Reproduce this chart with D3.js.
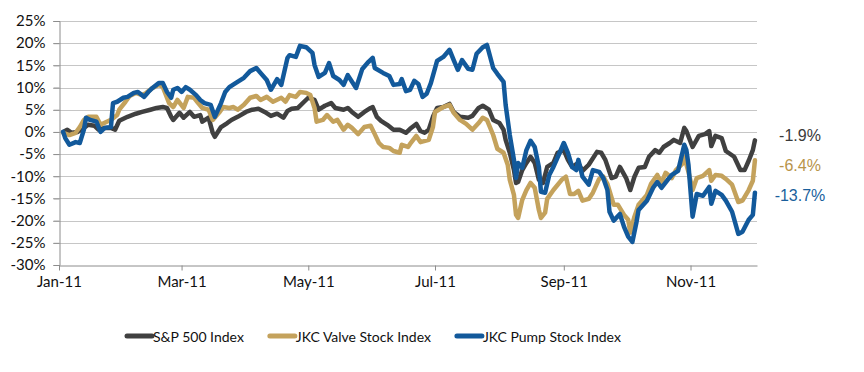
<!DOCTYPE html>
<html>
<head>
<meta charset="utf-8">
<script src="https://cdn.jsdelivr.net/npm/d3@7"></script>
<style>
  html, body { margin: 0; padding: 0; background: #fff; }
  svg { display: block; }
</style>
</head>
<body>
<svg id="chart" width="864" height="372"></svg>
<script>
// ---------- DATA ----------
const seriesNames = ["S&P 500 Index", "JKC Valve Stock Index", "JKC Pump Stock Index"];
const yTickValues = [-30, -25, -20, -15, -10, -5, 0, 5, 10, 15, 20, 25];
const xTickDates = ["2011-01-01", "2011-03-01", "2011-05-01", "2011-07-01", "2011-09-01", "2011-11-01"];
const xDomain = ["2011-01-01", "2011-12-03"];
const endLabels = ["-1.9%", "-6.4%", "-13.7%"];

const spx = [
["2011-01-03",0],["2011-01-05",0.5],["2011-01-07",-0.2],["2011-01-10",0],["2011-01-13",0.9],["2011-01-15",1.6],["2011-01-18",1.4],["2011-01-20",0.5],["2011-01-23",0.9],["2011-01-26",0.9],["2011-01-28",0.5],["2011-01-30",2.5],["2011-02-03",3.4],["2011-02-07",4.1],["2011-02-10",4.5],["2011-02-14",5.0],["2011-02-17",5.4],["2011-02-20",5.6],["2011-02-22",5.4],["2011-02-24",3.4],["2011-02-25",2.7],["2011-02-28",4.3],["2011-03-02",3.2],["2011-03-05",4.5],["2011-03-07",3.4],["2011-03-10",3.8],["2011-03-11",2.3],["2011-03-14",3.2],["2011-03-16",-0.2],["2011-03-17",-1.1],["2011-03-20",1.1],["2011-03-23",2.0],["2011-03-25",2.7],["2011-03-28",3.4],["2011-04-01",4.5],["2011-04-04",5.0],["2011-04-07",5.2],["2011-04-10",4.5],["2011-04-13",3.6],["2011-04-16",4.1],["2011-04-19",3.2],["2011-04-21",4.7],["2011-04-23",5.2],["2011-04-26",5.4],["2011-04-29",6.8],["2011-05-01",7.7],["2011-05-04",7.2],["2011-05-06",5.0],["2011-05-09",5.9],["2011-05-12",6.5],["2011-05-14",5.4],["2011-05-18",5.0],["2011-05-20",5.4],["2011-05-22",4.5],["2011-05-25",3.4],["2011-05-28",4.5],["2011-05-31",5.4],["2011-06-01",5.6],["2011-06-03",3.4],["2011-06-05",2.5],["2011-06-08",1.6],["2011-06-11",0.5],["2011-06-14",0.5],["2011-06-17",-0.2],["2011-06-19",0.7],["2011-06-22",1.8],["2011-06-24",0.2],["2011-06-26",-0.2],["2011-06-28",0.5],["2011-06-30",3.4],["2011-07-02",5.4],["2011-07-05",5.6],["2011-07-08",6.3],["2011-07-10",4.5],["2011-07-13",3.4],["2011-07-17",3.2],["2011-07-19",3.6],["2011-07-22",5.4],["2011-07-24",5.9],["2011-07-27",5.0],["2011-07-29",2.7],["2011-08-01",2.0],["2011-08-03",0.5],["2011-08-04",-1.8],["2011-08-06",-4.7],["2011-08-08",-8.6],["2011-08-09",-11.5],["2011-08-10",-11.3],["2011-08-12",-8.6],["2011-08-14",-7.0],["2011-08-16",-5.6],["2011-08-18",-7.0],["2011-08-20",-10.8],["2011-08-22",-11.5],["2011-08-24",-7.9],["2011-08-27",-7.0],["2011-08-29",-4.7],["2011-09-01",-4.1],["2011-09-03",-6.3],["2011-09-05",-7.9],["2011-09-08",-7.0],["2011-09-10",-8.8],["2011-09-13",-7.4],["2011-09-17",-4.5],["2011-09-19",-4.7],["2011-09-21",-6.3],["2011-09-24",-10.4],["2011-09-26",-10.1],["2011-09-28",-7.9],["2011-10-01",-10.4],["2011-10-03",-13.1],["2011-10-05",-10.1],["2011-10-07",-8.1],["2011-10-10",-7.9],["2011-10-12",-5.6],["2011-10-15",-4.1],["2011-10-17",-4.7],["2011-10-19",-3.4],["2011-10-22",-2.5],["2011-10-24",-1.8],["2011-10-27",-2.5],["2011-10-29",0.9],["2011-10-30",0.2],["2011-11-02",-3.4],["2011-11-05",-0.9],["2011-11-08",-0.5],["2011-11-10",0.2],["2011-11-11",-3.2],["2011-11-13",-0.9],["2011-11-16",-1.4],["2011-11-18",-4.3],["2011-11-22",-5.6],["2011-11-25",-8.6],["2011-11-27",-8.6],["2011-11-29",-6.5],["2011-12-01",-4.1],["2011-12-02",-1.9]
];

const valve = [
["2011-01-03",-0.2],["2011-01-06",-0.7],["2011-01-09",-0.2],["2011-01-11",1.1],["2011-01-13",2.7],["2011-01-15",3.4],["2011-01-19",3.4],["2011-01-21",1.6],["2011-01-24",2.3],["2011-01-26",2.7],["2011-01-29",3.8],["2011-01-30",5.0],["2011-02-02",6.8],["2011-02-04",8.1],["2011-02-07",8.8],["2011-02-10",8.3],["2011-02-12",8.8],["2011-02-15",9.9],["2011-02-18",10.6],["2011-02-20",10.1],["2011-02-23",6.5],["2011-02-25",5.6],["2011-02-27",7.2],["2011-03-02",5.4],["2011-03-04",7.9],["2011-03-07",7.7],["2011-03-09",6.5],["2011-03-11",5.4],["2011-03-14",5.0],["2011-03-16",2.7],["2011-03-19",4.3],["2011-03-21",5.6],["2011-03-24",5.4],["2011-03-26",5.6],["2011-03-28",5.0],["2011-03-31",6.1],["2011-04-03",7.7],["2011-04-06",8.1],["2011-04-08",7.2],["2011-04-11",7.9],["2011-04-14",6.8],["2011-04-18",7.7],["2011-04-20",6.8],["2011-04-22",8.3],["2011-04-25",7.9],["2011-04-27",9.0],["2011-04-30",8.8],["2011-05-02",8.3],["2011-05-04",5.4],["2011-05-05",2.3],["2011-05-08",2.7],["2011-05-10",3.8],["2011-05-13",2.3],["2011-05-15",2.7],["2011-05-18",0.5],["2011-05-20",1.6],["2011-05-22",0.9],["2011-05-25",-0.5],["2011-05-28",1.1],["2011-05-31",1.4],["2011-06-02",-0.5],["2011-06-04",-2.5],["2011-06-06",-3.4],["2011-06-09",-3.6],["2011-06-11",-4.3],["2011-06-14",-4.7],["2011-06-15",-2.9],["2011-06-18",-3.4],["2011-06-19",-2.7],["2011-06-22",-0.9],["2011-06-24",-2.3],["2011-06-28",-1.8],["2011-06-30",1.1],["2011-07-01",4.5],["2011-07-05",5.6],["2011-07-08",6.1],["2011-07-10",4.3],["2011-07-13",2.7],["2011-07-16",1.8],["2011-07-19",0.5],["2011-07-22",2.0],["2011-07-24",3.2],["2011-07-26",2.7],["2011-07-29",-0.7],["2011-07-31",-3.8],["2011-08-03",-4.7],["2011-08-05",-7.4],["2011-08-06",-10.8],["2011-08-08",-14.2],["2011-08-09",-18.7],["2011-08-10",-19.4],["2011-08-12",-15.3],["2011-08-14",-13.1],["2011-08-16",-11.5],["2011-08-18",-12.6],["2011-08-20",-17.6],["2011-08-21",-19.4],["2011-08-23",-18.2],["2011-08-24",-15.1],["2011-08-27",-13.1],["2011-08-31",-10.8],["2011-09-02",-10.1],["2011-09-04",-14.0],["2011-09-06",-14.0],["2011-09-08",-13.3],["2011-09-10",-15.5],["2011-09-13",-15.1],["2011-09-15",-13.7],["2011-09-18",-10.6],["2011-09-20",-10.1],["2011-09-22",-11.7],["2011-09-25",-16.4],["2011-09-27",-16.4],["2011-09-30",-18.7],["2011-10-02",-19.8],["2011-10-03",-22.7],["2011-10-05",-19.1],["2011-10-07",-16.4],["2011-10-11",-14.2],["2011-10-13",-11.7],["2011-10-16",-9.7],["2011-10-18",-11.5],["2011-10-20",-9.2],["2011-10-23",-10.4],["2011-10-25",-8.6],["2011-10-28",-7.2],["2011-10-29",-5.6],["2011-10-31",-9.0],["2011-11-02",-13.1],["2011-11-04",-10.4],["2011-11-07",-9.9],["2011-11-10",-8.6],["2011-11-11",-11.0],["2011-11-13",-9.7],["2011-11-16",-9.9],["2011-11-18",-10.6],["2011-11-21",-11.9],["2011-11-24",-15.8],["2011-11-26",-15.5],["2011-11-29",-13.1],["2011-12-01",-11.0],["2011-12-02",-6.4]
];

const pump = [
["2011-01-03",0],["2011-01-04",-1.4],["2011-01-06",-2.9],["2011-01-09",-2.3],["2011-01-11",-2.5],["2011-01-13",0.5],["2011-01-14",3.2],["2011-01-16",2.7],["2011-01-19",2.3],["2011-01-21",0],["2011-01-23",0.9],["2011-01-26",1.1],["2011-01-27",6.5],["2011-01-29",6.8],["2011-02-01",7.7],["2011-02-03",7.9],["2011-02-06",8.8],["2011-02-08",9.0],["2011-02-11",7.9],["2011-02-13",9.0],["2011-02-15",9.9],["2011-02-18",11.0],["2011-02-20",11.0],["2011-02-22",9.0],["2011-02-24",7.7],["2011-02-25",9.5],["2011-02-27",9.9],["2011-03-01",9.0],["2011-03-03",10.1],["2011-03-05",9.5],["2011-03-08",8.3],["2011-03-10",7.2],["2011-03-12",6.5],["2011-03-15",6.1],["2011-03-17",3.4],["2011-03-20",6.5],["2011-03-22",9.0],["2011-03-24",10.1],["2011-03-27",11.0],["2011-03-31",12.2],["2011-04-03",13.7],["2011-04-06",14.4],["2011-04-08",13.3],["2011-04-11",11.7],["2011-04-13",9.5],["2011-04-16",11.9],["2011-04-18",10.6],["2011-04-21",16.7],["2011-04-22",17.3],["2011-04-25",16.9],["2011-04-27",19.4],["2011-04-30",19.1],["2011-05-03",17.8],["2011-05-04",15.1],["2011-05-06",12.4],["2011-05-09",13.3],["2011-05-11",15.5],["2011-05-13",12.6],["2011-05-16",11.7],["2011-05-18",10.6],["2011-05-20",12.8],["2011-05-24",9.9],["2011-05-27",14.2],["2011-05-30",15.8],["2011-06-01",16.7],["2011-06-02",14.4],["2011-06-06",13.3],["2011-06-09",12.6],["2011-06-11",10.6],["2011-06-14",10.8],["2011-06-15",11.9],["2011-06-17",9.2],["2011-06-19",9.5],["2011-06-21",11.5],["2011-06-23",10.8],["2011-06-25",7.9],["2011-06-27",8.6],["2011-06-29",11.0],["2011-07-02",16.0],["2011-07-05",16.9],["2011-07-08",18.5],["2011-07-10",16.2],["2011-07-12",14.0],["2011-07-14",16.2],["2011-07-17",14.2],["2011-07-19",14.0],["2011-07-21",17.6],["2011-07-24",19.1],["2011-07-26",19.6],["2011-07-29",14.4],["2011-07-31",13.1],["2011-08-03",11.3],["2011-08-04",6.1],["2011-08-06",-0.7],["2011-08-08",-6.3],["2011-08-09",-10.4],["2011-08-10",-7.0],["2011-08-12",-8.1],["2011-08-14",-4.1],["2011-08-16",-2.0],["2011-08-18",-3.4],["2011-08-20",-7.9],["2011-08-21",-13.5],["2011-08-23",-13.7],["2011-08-25",-9.7],["2011-08-27",-7.9],["2011-08-30",-4.7],["2011-09-01",-2.5],["2011-09-03",-4.7],["2011-09-05",-7.9],["2011-09-07",-8.6],["2011-09-08",-6.3],["2011-09-10",-10.1],["2011-09-13",-11.9],["2011-09-15",-8.6],["2011-09-18",-9.0],["2011-09-20",-10.4],["2011-09-22",-13.1],["2011-09-23",-18.0],["2011-09-25",-20.0],["2011-09-28",-18.5],["2011-09-30",-21.4],["2011-10-02",-23.6],["2011-10-04",-24.8],["2011-10-06",-20.3],["2011-10-07",-17.6],["2011-10-11",-15.5],["2011-10-14",-12.6],["2011-10-16",-11.3],["2011-10-18",-12.6],["2011-10-21",-10.8],["2011-10-23",-9.7],["2011-10-26",-8.8],["2011-10-29",-2.9],["2011-10-30",-4.1],["2011-10-31",-7.4],["2011-11-02",-19.1],["2011-11-04",-14.0],["2011-11-07",-14.4],["2011-11-10",-12.4],["2011-11-11",-16.2],["2011-11-13",-13.3],["2011-11-16",-14.2],["2011-11-18",-15.5],["2011-11-21",-18.0],["2011-11-24",-23.0],["2011-11-26",-22.5],["2011-11-29",-19.8],["2011-12-01",-18.7],["2011-12-02",-13.7]
];

// ---------- STYLE / LAYOUT ----------
const colors = ["#404040", "#C4A25C", "#12599B"];
const labelColors = ["#3a3a3a", "#B8944A", "#1A5F9C"];
const labelDy = [-5, 5, 3];
const plot = { left: 59, right: 757, top: 21, bottom: 265 };
const fontFamily = "Lato, 'Open Sans', sans-serif";

const parse = d3.timeParse("%Y-%m-%d");
const allSeries = [spx, valve, pump].map(s => s.map(([d, v]) => ({ date: parse(d), value: v })));

const svg = d3.select("#chart");

const x = d3.scaleTime().domain(xDomain.map(parse)).range([plot.left, plot.right]);
const y = d3.scaleLinear().domain([-30, 25]).range([plot.bottom, plot.top]);

// gridlines
svg.append("g")
  .selectAll("line")
  .data(yTickValues.filter(v => v !== -30))
  .join("line")
  .attr("x1", plot.left - 6).attr("x2", plot.right)
  .attr("y1", d => Math.round(y(d)) + 0.5).attr("y2", d => Math.round(y(d)) + 0.5)
  .attr("stroke", "#C6C6C6").attr("stroke-width", 1);

// y axis
const yAxis = svg.append("g")
  .attr("transform", `translate(${plot.left + 0.5},0)`)
  .call(d3.axisLeft(y).tickValues(yTickValues).tickFormat(d => d + "%").tickSize(6).tickPadding(8));
yAxis.select(".domain").attr("stroke", "#8C8C8C");
yAxis.selectAll(".tick line").attr("stroke", "#8C8C8C");
yAxis.selectAll(".tick text")
  .attr("font-family", fontFamily).attr("font-size", 15).attr("fill", "#111");

// x axis
const xAxis = svg.append("g")
  .attr("transform", `translate(0,${plot.bottom + 0.5})`)
  .call(d3.axisBottom(x).tickValues(xTickDates.map(parse)).tickFormat(d3.timeFormat("%b-%y")).tickSize(5).tickSizeOuter(0).tickPadding(6));
xAxis.select(".domain").attr("stroke", "#8C8C8C");
xAxis.selectAll(".tick line").attr("stroke", "#8C8C8C");
xAxis.selectAll(".tick text")
  .attr("font-family", fontFamily).attr("font-size", 15).attr("fill", "#111");

// lines
const line = d3.line().x(d => x(d.date)).y(d => y(d.value));
svg.append("g")
  .selectAll("path")
  .data(allSeries)
  .join("path")
  .attr("d", line)
  .attr("fill", "none")
  .attr("stroke", (d, i) => colors[i])
  .attr("stroke-width", 4.5)
  .attr("stroke-linejoin", "round")
  .attr("stroke-linecap", "round");

// end labels
svg.append("g")
  .selectAll("text")
  .data(allSeries)
  .join("text")
  .attr("x", 800)
  .attr("y", (d, i) => y(d[d.length - 1].value) + labelDy[i])
  .attr("text-anchor", "middle")
  .attr("dominant-baseline", "central")
  .attr("font-family", "'Liberation Sans', Arial, sans-serif")
  .attr("font-size", 16)
  .attr("fill", (d, i) => labelColors[i])
  .text((d, i) => endLabels[i]);

// legend
const legend = svg.append("g").attr("transform", "translate(125,336)");
let cursor = 0;
seriesNames.forEach((name, i) => {
  const g = legend.append("g").attr("transform", `translate(${cursor},0)`);
  g.append("line").attr("x1", 2).attr("x2", 27).attr("y1", 0).attr("y2", 0)
    .attr("stroke", colors[i]).attr("stroke-width", 5).attr("stroke-linecap", "round");
  const t = g.append("text").attr("x", 28).attr("y", 0)
    .attr("dominant-baseline", "central")
    .attr("font-family", fontFamily).attr("font-size", 14).attr("fill", "#111")
    .text(name);
  cursor += 28 + t.node().getComputedTextLength() + 24;
});
</script>
</body>
</html>
